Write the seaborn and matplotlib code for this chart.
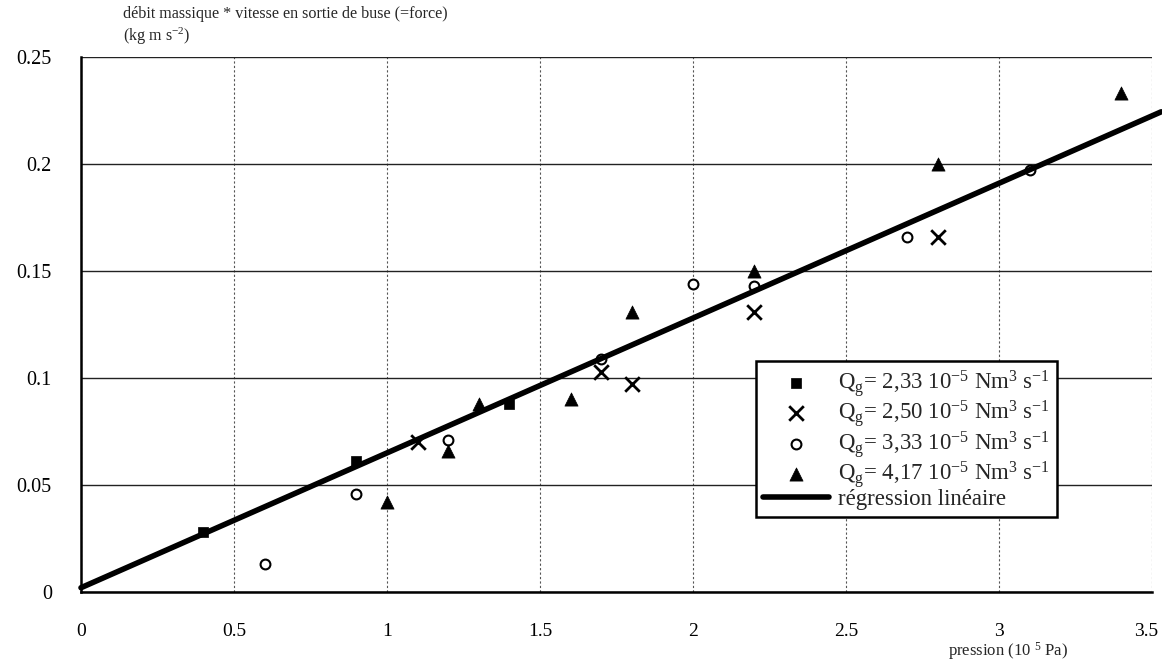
import matplotlib
matplotlib.use("Agg")
import matplotlib.pyplot as plt
import matplotlib.transforms as mtransforms
import seaborn as sns
import pandas as pd
import numpy as np

# Measured points: pressure (10^5 Pa) vs mass flow * exit velocity (kg m s^-2)
p_233 = [0.4, 0.9, 1.4]
f_233 = [0.028, 0.061, 0.088]

p_250 = [1.1, 1.7, 1.8, 2.2, 2.8]
f_250 = [0.070, 0.103, 0.097, 0.131, 0.166]

p_333 = [0.6, 0.9, 1.2, 1.7, 2.0, 2.2, 2.7, 3.1]
f_333 = [0.013, 0.046, 0.071, 0.109, 0.144, 0.143, 0.166, 0.197]

p_417 = [1.0, 1.2, 1.3, 1.6, 1.8, 2.2, 2.8, 3.4]
f_417 = [0.042, 0.066, 0.088, 0.090, 0.131, 0.150, 0.200, 0.233]

# Linear regression line (slope, intercept) and its drawn extent
reg_slope = 0.0630
reg_intercept = 0.002
reg_x = [0.0, 3.53]

series_labels = [
    r"Q$_\mathrm{g}$= 2,33 10$^{\mathrm{-5}}$ Nm$^\mathrm{3}$ s$^{\mathrm{-1}}$",
    r"Q$_\mathrm{g}$= 2,50 10$^{\mathrm{-5}}$ Nm$^\mathrm{3}$ s$^{\mathrm{-1}}$",
    r"Q$_\mathrm{g}$= 3,33 10$^{\mathrm{-5}}$ Nm$^\mathrm{3}$ s$^{\mathrm{-1}}$",
    r"Q$_\mathrm{g}$= 4,17 10$^{\mathrm{-5}}$ Nm$^\mathrm{3}$ s$^{\mathrm{-1}}$",
]
reg_label = "régression linéaire"

x_ticks = [0, 0.5, 1, 1.5, 2, 2.5, 3, 3.5]
x_tick_labels = ["0", "0.5", "1", "1.5", "2", "2.5", "3", "3.5"]
y_ticks = [0, 0.05, 0.1, 0.15, 0.2, 0.25]
y_tick_labels = ["0", "0.05", "0.1", "0.15", "0.2", "0.25"]

sns.set_style("white")
plt.rcParams["font.family"] = ["Liberation Serif", "DejaVu Serif"]
plt.rcParams["mathtext.fontset"] = "custom"
plt.rcParams["mathtext.rm"] = "Liberation Serif"
plt.rcParams["mathtext.it"] = "Liberation Serif:italic"
plt.rcParams["mathtext.bf"] = "Liberation Serif:bold"

fig = plt.figure(figsize=(11.62, 6.6), dpi=100)
ax = fig.add_axes([81 / 1162, 68 / 660, (1152 - 81) / 1162, (592 - 57) / 660])

df = pd.concat([
    pd.DataFrame({"p": p_233, "f": f_233, "serie": series_labels[0]}),
    pd.DataFrame({"p": p_250, "f": f_250, "serie": series_labels[1]}),
    pd.DataFrame({"p": p_333, "f": f_333, "serie": series_labels[2]}),
    pd.DataFrame({"p": p_417, "f": f_417, "serie": series_labels[3]}),
])

styles = [
    dict(marker="s", s=45, color="black", edgecolor="black", linewidth=0.5),
    dict(marker="x", s=110, color="black", linewidth=2.0),
    dict(marker="o", s=50, facecolor="white", edgecolor="black", linewidth=1.5),
    dict(marker="^", s=90, color="black", edgecolor="black", linewidth=0.5),
]
for lab, st in zip(series_labels, styles):
    sub = df[df["serie"] == lab]
    sns.scatterplot(data=sub, x="p", y="f", ax=ax, label=lab, zorder=4, **st)

reg_df = pd.DataFrame({"p": reg_x,
                       "f": [reg_slope * v + reg_intercept for v in reg_x]})
sns.lineplot(data=reg_df, x="p", y="f", ax=ax, color="black", linewidth=4.0,
             label=reg_label, zorder=5, clip_on=False,
             solid_capstyle="round")

ax.set_xlim(0, 3.5)
ax.set_ylim(0, 0.25)
ax.set_xticks(x_ticks)
ax.set_xticklabels(x_tick_labels, fontsize=14)
ax.set_yticks(y_ticks)
ax.set_yticklabels(y_tick_labels, fontsize=14.5)
ax.set_xlabel("")
ax.set_ylabel("")

# Horizontal grid solid, vertical grid dotted
ax.yaxis.grid(True, color="#222222", linewidth=1.0, linestyle="-")
ax.xaxis.grid(True, color="#555555", linewidth=0.8, linestyle=(0, (2, 2)))
ax.set_axisbelow(True)

for side in ["top", "right"]:
    ax.spines[side].set_visible(False)
for side in ["left", "bottom"]:
    ax.spines[side].set_color("black")
    ax.spines[side].set_linewidth(1.8)

ax.tick_params(axis="x", direction="inout", length=10, width=1.5, pad=17,
               colors="black")
ax.tick_params(axis="y", direction="out", length=7, width=1.5, pad=14,
               colors="black")

# Keep the last x tick label inside the figure edge
last = ax.get_xticklabels()[-1]
last.set_transform(last.get_transform() +
                   mtransforms.ScaledTranslation(-6 / 100, 0, fig.dpi_scale_trans))

# Axis titles
fig.text(123 / 1162, 1 - 14 / 660, "débit massique * vitesse en sortie de buse (=force)",
         fontsize=11.6, ha="left", va="center")
fig.text(123 / 1162, 1 - 36 / 660, r"(kg m s$^{\mathrm{-2}}$)",
         fontsize=11.6, ha="left", va="center")
fig.text(1008 / 1162, 1 - 651 / 660, r"pression (10 $^{\mathrm{5}}$ Pa)",
         fontsize=12, ha="center", va="center")

handles, labels = ax.get_legend_handles_labels()
leg = ax.legend(handles, labels, loc="upper left",
                bbox_to_anchor=((756 - 81) / 1071, (592 - 361) / 535),
                fontsize=16.5, frameon=True, fancybox=False, edgecolor="black",
                framealpha=1, borderpad=0.3, labelspacing=-0.03,
                handlelength=2.9, handletextpad=0.4, borderaxespad=0)
leg.get_frame().set_linewidth(1.8)
leg.set_zorder(10)

fig.savefig("out.png", dpi=100, facecolor="white")
